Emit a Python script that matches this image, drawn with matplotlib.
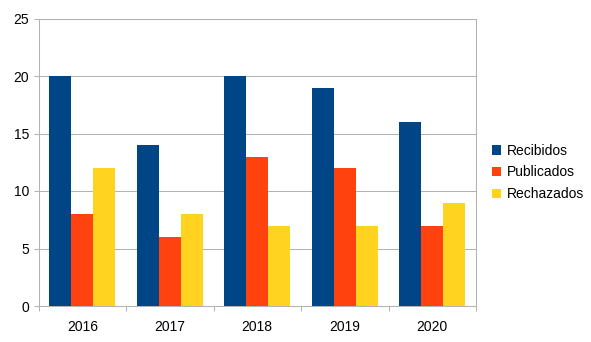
import matplotlib
matplotlib.use("Agg")
import matplotlib.pyplot as plt
import numpy as np

years = ["2016", "2017", "2018", "2019", "2020"]
recibidos = [20, 14, 20, 19, 16]
publicados = [8, 6, 13, 12, 7]
rechazados = [12, 8, 7, 7, 9]
series_names = ["Recibidos", "Publicados", "Rechazados"]
colors = ["#004586", "#ff420e", "#ffd320"]
yticks = [0, 5, 10, 15, 20, 25]

plt.rcParams['font.family'] = ['Liberation Sans', 'DejaVu Sans']
fig = plt.figure(figsize=(5.91, 3.42), dpi=100)
ax = fig.add_axes([38.5/591, 1-306/342, (476-38.5)/591, (306-18.5)/342])

x = np.arange(len(years))
w = 0.25
for i, (vals, name, c) in enumerate(zip([recibidos, publicados, rechazados], series_names, colors)):
    ax.bar(x + (i-1)*w, vals, width=w, color=c, label=name, zorder=3, linewidth=0)

ax.set_xlim(-0.5, len(years)-0.5)
ax.set_ylim(0, 25)
ax.set_yticks(yticks)
ax.set_yticklabels([str(t) for t in yticks], fontsize=10)
ax.set_xticks(x)
ax.set_xticklabels(years, fontsize=10)
ax.set_xticks(np.arange(-0.5, len(years), 1.0), minor=True)
ax.tick_params(axis='x', which='major', length=0, pad=10)
ax.tick_params(axis='x', which='minor', length=3.6, color='#b3b3b3', width=0.75)
ax.tick_params(axis='y', which='major', length=3.6, color='#b3b3b3', width=0.75, pad=3)
ax.grid(axis='y', color='#b3b3b3', linewidth=0.75, zorder=0)
for s in ax.spines.values():
    s.set_color('#b3b3b3')
    s.set_linewidth(0.75)

leg = ax.legend(loc='center left', bbox_to_anchor=(492/591, 1-172.5/342), bbox_transform=fig.transFigure,
                frameon=False, fontsize=10, handlelength=0.65, handleheight=0.65,
                handletextpad=0.45, labelspacing=0.55, borderaxespad=0, borderpad=0)

fig.savefig("out.png", dpi=100)
